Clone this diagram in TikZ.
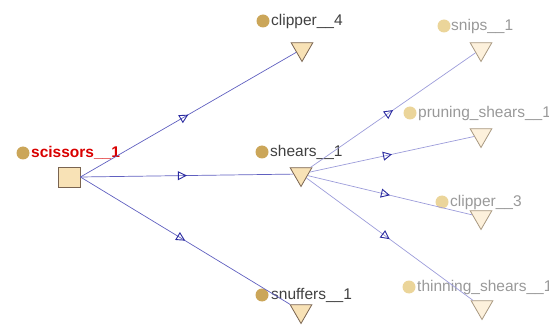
\documentclass[tikz,border=0pt]{standalone}
\usepackage{fontspec}
\setmainfont{Liberation Sans}
\usetikzlibrary{shapes.geometric,decorations.markings,arrows.meta}

\definecolor{dotdark}{HTML}{CBA659}
\definecolor{dotlight}{HTML}{EBD59A}
\definecolor{trifill}{HTML}{F8E2B6}
\definecolor{trifaint}{HTML}{FDF1DC}
\definecolor{triedge}{HTML}{7A6450}
\definecolor{trifaintedge}{HTML}{A89880}
\definecolor{linkcol}{HTML}{6060C0}
\definecolor{linkfaint}{HTML}{9C9CDA}
\definecolor{tipcol}{HTML}{2A2AA0}

\tikzset{
  tri/.style={regular polygon,regular polygon sides=3,shape border rotate=180,
    minimum size=25pt,inner sep=0pt,draw=triedge,fill=trifill,line width=0.8pt},
  trifar/.style={tri,draw=trifaintedge,fill=trifaint},
  dot/.style={circle,fill=dotdark,minimum size=13pt,inner sep=0pt},
  dotfar/.style={dot,fill=dotlight},
  lbl/.style={anchor=west,inner sep=0pt,text=black!75,font=\fontsize{15.5}{18}\selectfont},
  lblfar/.style={lbl,text=black!40},
  link/.style={draw=linkcol,line width=0.7pt,postaction={decorate},
    decoration={markings,mark=at position 0.5 with
      {\arrow{Triangle[open,length=9pt,width=9pt,line width=0.9pt,color=tipcol]}}}},
  linkfar/.style={link,draw=linkfaint}
}

\begin{document}
\begin{tikzpicture}[x=1pt,y=-1pt]
	\useasboundingbox (0,0) rectangle (549,331);
	\clip (0,0) rectangle (549,331);

	%root
	\node[draw=triedge,fill=trifill,line width=0.8pt,minimum width=22pt,minimum height=20pt,inner sep=0pt] (scissors) at (69,177) {};
	\node[dot] (scissors-dot) at (23,153) {};
	\node[lbl,text=red!85!black,font=\bfseries\fontsize{15.5}{18}\selectfont] (scissors-txt) at (31,153) {scissors\_\_1};

	%middle column
	\node[tri] (clipper4) at (302,49) {};
	\node[dot] (clipper4-dot) at (263,21) {};
	\node[lbl] (clipper4-txt) at (271,21) {clipper\_\_4};

	\node[tri] (shears) at (301,174) {};
	\node[dot] (shears-dot) at (262,152) {};
	\node[lbl] (shears-txt) at (270,152) {shears\_\_1};

	\node[tri] (snuffers) at (301,311) {};
	\node[dot] (snuffers-dot) at (262,295) {};
	\node[lbl] (snuffers-txt) at (271,295) {snuffers\_\_1};

	%right column
	\node[trifar] (snips) at (481,49) {};
	\node[dotfar] (snips-dot) at (444,26) {};
	\node[lblfar] (snips-txt) at (451,26) {snips\_\_1};

	\node[trifar] (pruning) at (481,135) {};
	\node[dotfar] (pruning-dot) at (410,113) {};
	\node[lblfar] (pruning-txt) at (418,113) {pruning\_shears\_\_1};

	\node[trifar] (clipper3) at (481,217) {};
	\node[dotfar] (clipper3-dot) at (442,202) {};
	\node[lblfar] (clipper3-txt) at (450,202) {clipper\_\_3};

	\node[trifar] (thinning) at (482,307) {};
	\node[dotfar] (thinning-dot) at (409,287) {};
	\node[lblfar] (thinning-txt) at (417,287) {thinning\_shears\_\_1};

	%links
	\draw[link] (scissors.east) -- (clipper4);
	\draw[link] (scissors.east) -- (shears);
	\draw[link] (scissors.east) -- (snuffers);

	\draw[linkfar] (shears) -- (snips);
	\draw[linkfar] (shears) -- (pruning);
	\draw[linkfar] (shears) -- (clipper3);
	\draw[linkfar] (shears) -- (thinning);
\end{tikzpicture}
\end{document}
